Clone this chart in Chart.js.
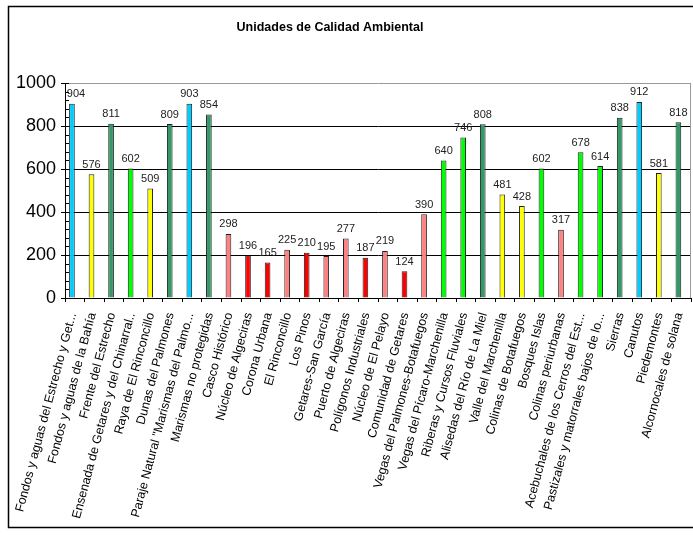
<!DOCTYPE html>
<html>
<head>
<meta charset="utf-8">
<script src="https://cdn.jsdelivr.net/npm/chart.js@4/dist/chart.umd.min.js"></script>
<style>
  html, body { margin: 0; padding: 0; background: #fff; }
  #caja { width: 693px; height: 535px; }
</style>
</head>
<body>
<div id="caja"><canvas id="grafico" width="693" height="535"></canvas></div>
<script>
const titulo = 'Unidades de Calidad Ambiental';

const unidades = [
    'Fondos y aguas del Estrecho y Get...',
    'Fondos y aguas de la Bahía',
    'Frente del Estrecho',
    'Ensenada de Getares y del Chinarral..',
    'Raya de El Rinconcillo',
    'Dunas del Palmones',
    'Paraje Natural "Marismas del Palmo...',
    'Marismas no protegidas',
    'Casco Histórico',
    'Núcleo de Algeciras',
    'Corona Urbana',
    'El Rinconcillo',
    'Los Pinos',
    'Getares-San García',
    'Puerto de Algeciras',
    'Polígonos Industriales',
    'Núcleo de El Pelayo',
    'Comunidad de Getares',
    'Vegas del Palmones-Botafuegos',
    'Vegas del Pícaro-Marchenilla',
    'Riberas y Cursos Fluviales',
    'Alisedas del Río de La Miel',
    'Valle del Marchenilla',
    'Colinas de Botafuegos',
    'Bosques Islas',
    'Colinas periurbanas',
    'Acebuchales de los Cerros del Est...',
    'Pastizales y matorrales bajos de lo...',
    'Sierras',
    'Canutos',
    'Piedemontes',
    'Alcornocales de solana'
];

const valores = [904, 576, 811, 602, 509, 809, 903, 854, 298, 196, 165, 225, 210, 195, 277, 187,
    219, 124, 390, 640, 746, 808, 481, 428, 602, 317, 678, 614, 838, 912, 581, 818];

// grupo de color de cada unidad
const grupos = ['azul', 'amarillo', 'verdeOscuro', 'verde', 'amarillo', 'verdeOscuro', 'azul', 'verdeOscuro',
    'rosa', 'rojo', 'rojo', 'rosa', 'rojo', 'rosa', 'rosa', 'rojo', 'rosa', 'rojo', 'rosa',
    'verde', 'verde', 'verdeOscuro', 'amarillo', 'amarillo', 'verde', 'rosa', 'verde', 'verde',
    'verdeOscuro', 'azul', 'amarillo', 'verdeOscuro'];

const ticksY = [0, 200, 400, 600, 800, 1000];

const colorGrupo = {
    azul: '#00CCFF',
    amarillo: '#FFFF00',
    verdeOscuro: '#339966',
    verde: '#00FF00',
    rosa: '#FF8080',
    rojo: '#FF0000'
};

const fuente = '"Liberation Sans", Arial, sans-serif';

// marco exterior, título, borde gris del área de trazado y subdivisiones del eje Y
const decoracion = {
    id: 'decoracion',
    beforeDraw(chart) {
        const c = chart.ctx;
        c.save();
        c.fillStyle = '#fff';
        c.fillRect(0, 0, chart.width, chart.height);
        c.strokeStyle = '#000';
        c.lineWidth = 1.5;
        c.strokeRect(8.5, 6.5, 720, 521);
        c.fillStyle = '#000';
        c.font = 'bold 12.5px ' + fuente;
        c.textAlign = 'center';
        c.textBaseline = 'middle';
        c.fillText(titulo, 330, 28);
        c.restore();
    },
    afterDraw(chart) {
        const c = chart.ctx;
        const area = chart.chartArea;
        const y = chart.scales.y;
        c.save();
        c.strokeStyle = '#999';
        c.lineWidth = 1;
        c.beginPath();
        c.moveTo(area.right - 0.5, area.top);
        c.lineTo(area.right - 0.5, area.bottom);
        c.stroke();
        c.strokeStyle = '#000';
        c.beginPath();
        for (let v = 0; v <= 1000; v += 40) {
            const py = Math.round(y.getPixelForValue(v)) + 0.5;
            c.moveTo(area.left, py);
            c.lineTo(area.left + 4, py);
        }
        c.stroke();
        c.restore();
    },
    afterDatasetsDraw(chart) {
        const c = chart.ctx;
        const meta = chart.getDatasetMeta(0);
        c.save();
        c.fillStyle = '#222';
        c.font = '11px ' + fuente;
        c.textAlign = 'center';
        c.textBaseline = 'bottom';
        meta.data.forEach((barra, i) => {
            const x = Math.max(barra.x, chart.chartArea.left + 11);
            c.fillText(String(valores[i]), x, barra.y - 4);
        });
        c.restore();
    }
};

const ctx = document.getElementById('grafico').getContext('2d');

new Chart(ctx, {
    type: 'bar',
    data: {
        labels: unidades,
        datasets: [
            {
                data: valores,
                backgroundColor: grupos.map((g) => colorGrupo[g]),
                borderColor: '#222',
                borderWidth: 1,
                borderSkipped: 'bottom'
            },
            {
                // serie vacía: deja las barras desplazadas a la izquierda como en el original
                data: unidades.map(() => null)
            }
        ]
    },
    options: {
        responsive: false,
        animation: false,
        layout: { padding: { top: 83, right: 2, left: 0, bottom: 0 } },
        plugins: {
            legend: { display: false },
            tooltip: { enabled: false }
        },
        datasets: {
            bar: { categoryPercentage: 0.58, barPercentage: 1 }
        },
        scales: {
            x: {
                grid: { offset: true, drawOnChartArea: false, tickLength: 4, tickColor: '#000' },
                border: { color: '#000', width: 1 },
                ticks: {
                    autoSkip: false,
                    minRotation: 75,
                    maxRotation: 75,
                    color: '#000',
                    padding: 9,
                    labelOffset: -2,
                    font: { family: fuente, size: 12.5 }
                },
                afterFit: (escala) => {
                    escala.height = 237;
                    escala.paddingLeft = 0;
                    escala.paddingRight = 0;
                }
            },
            y: {
                min: 0,
                max: 1000,
                afterBuildTicks: (escala) => { escala.ticks = ticksY.map((v) => ({ value: v })); },
                grid: {
                    color: (c) => (c.tick && c.tick.value === 1000 ? '#999' : '#000'),
                    tickLength: 4,
                    tickColor: '#000'
                },
                border: { color: '#000', width: 1 },
                ticks: {
                    color: '#000',
                    padding: 5,
                    font: { family: fuente, size: 18 },
                    callback: (v) => String(v)
                },
                afterFit: (escala) => { escala.width = 65; }
            }
        }
    },
    plugins: [decoracion]
});
</script>
</body>
</html>
